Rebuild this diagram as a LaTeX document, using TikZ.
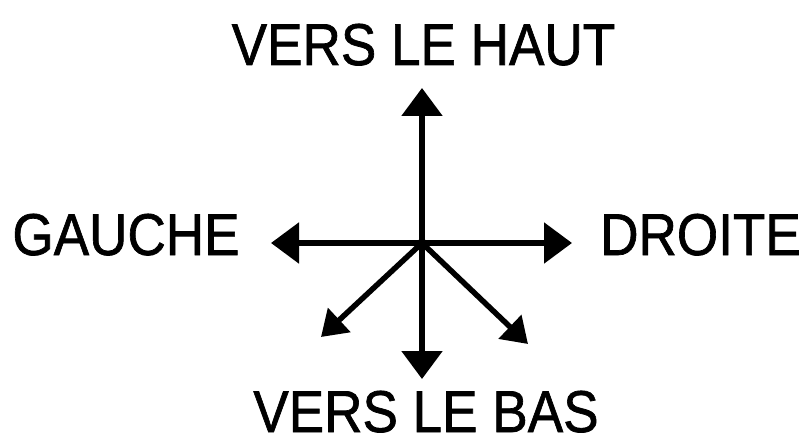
\documentclass[tikz,border=0pt]{standalone}
\usepackage{fontspec}
\setmainfont[FakeBold=1.2]{Liberation Sans}
\usetikzlibrary{arrows.meta}
\begin{document}
\begin{tikzpicture}[x=1pt,y=-1pt,
  lbl/.style={inner sep=0pt,anchor=base,font=\fontsize{59}{59}\selectfont,xscale=0.9},
  dirarrow/.style={line width=5.5pt,-{Triangle[width=40pt,length=28pt]}},
  diagarrow/.style={line width=5.5pt,-{Triangle[width=32pt,length=25pt]}}]
\useasboundingbox (0,0) rectangle (804,436);
\coordinate (c) at (422,243);
\coordinate (up) at (422,88);
\coordinate (down) at (422,379);
\coordinate (left) at (271,243);
\coordinate (right) at (572,243);
\coordinate (dl) at (321,337);
\coordinate (dr) at (528,344);
\draw[dirarrow] (c) -- (up);
\draw[dirarrow] (c) -- (down);
\draw[dirarrow] (c) -- (left);
\draw[dirarrow] (c) -- (right);
\draw[diagarrow] (c) -- (dl);
\draw[diagarrow] (c) -- (dr);
\fill (c) circle (4.5pt);
\node[lbl] (haut) at (423.5,65) {VERS LE HAUT};
\node[lbl] (gauche) at (126,255) {GAUCHE};
\node[lbl] (droite) at (700.5,255) {DROITE};
\node[lbl] (bas) at (426,432) {VERS LE BAS};
\end{tikzpicture}
\end{document}
